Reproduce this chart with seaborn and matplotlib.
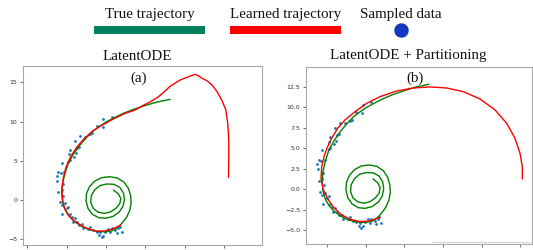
import matplotlib
matplotlib.use("Agg")
import matplotlib.pyplot as plt
import seaborn as sns
from matplotlib.lines import Line2D
from matplotlib.patches import Rectangle

# ---------------- data ----------------
true_x = [8.15, 6.45, 5.18, 3.48, 2.21, 1.15, 0.08, -0.76, -1.61, -2.46, -3.31, -4.16, -4.80,
          -5.22, -5.52, -5.61, -5.52, -5.22, -4.71, -4.08, -3.23, -2.25, -1.19, 0.0, 0.8, 1.4,
          1.8, 2.1, 2.6, 3.0, 3.18, 3.12, 2.85, 2.3, 1.45, 0.45, -0.55, -1.45, -2.1, -2.48,
          -2.55, -2.3, -1.75, -0.95, -0.05, 0.85, 1.65, 2.15, 2.33, 2.2, 1.75, 1.0, 0.1, -0.75,
          -1.45, -1.88, -1.95, -1.65, -1.0, -0.2, 0.6, 1.3, 1.75, 1.87, 1.55, 0.93]
true_y = [12.82, 12.48, 12.10, 11.55, 11.04, 10.53, 9.98, 9.43, 8.83, 7.98, 7.01, 5.82, 4.67,
          3.40, 2.12, 0.85, -0.21, -1.19, -2.04, -2.68, -3.27, -3.74, -3.99, -4.05, -3.9, -3.55,
          -3.18, -2.85, -2.2, -1.35, -0.42, 0.55, 1.45, 2.25, 2.8, 2.97, 2.85, 2.4, 1.7, 0.85,
          -0.1, -1.05, -1.8, -2.25, -2.33, -2.1, -1.55, -0.8, 0.05, 0.9, 1.6, 2.0, 2.04, 1.85,
          1.3, 0.55, -0.3, -1.05, -1.55, -1.7, -1.5, -1.0, -0.45, 0.2, 0.8, 1.27]

learned_a_x = [1.85, 0.93, -0.13, -1.19, -2.25, -3.18, -4.08, -4.80, -5.31, -5.56, -5.61, -5.44,
               -5.10, -4.50, -3.74, -2.80, -1.70, -0.55, 0.93, 2.42, 3.69, 4.55, 5.6, 6.66, 7.4,
               8.15, 9.43, 10.7, 11.34, 11.76, 12.2, 12.8, 13.5, 14.1, 14.7, 15.2, 15.45, 15.58,
               15.58, 15.54]
learned_a_y = [-3.2, -3.65, -3.95, -3.95, -3.69, -3.23, -2.63, -1.91, -0.98, 0.21, 1.49, 2.76,
               4.16, 5.52, 6.71, 7.81, 8.79, 9.51, 10.32, 11.04, 11.46, 11.97, 12.5, 13.16, 13.8,
               14.5, 15.3, 15.8, 16.0, 15.8, 15.5, 15.2, 14.6, 13.8, 12.7, 11.5, 9.77, 7.64,
               5.1, 2.89]

learned_b_x = [1.85, 0.56, -0.73, -2.02, -3.10, -4.05, -4.82, -5.47, -5.77, -5.68, -5.38, -4.95,
               -4.39, -3.62, -2.67, -1.38, 0.13, 1.85, 4.0, 6.16, 8.31, 10.47, 12.62, 14.77,
               16.71, 18.22, 19.29, 19.94, 20.24, 20.24]
learned_b_y = [-3.42, -3.87, -3.95, -3.66, -3.13, -2.32, -1.30, -0.08, 1.34, 2.77, 3.99, 5.13,
               6.23, 7.45, 8.47, 9.48, 10.5, 11.31, 12.0, 12.37, 12.5, 12.37, 11.92, 11.03,
               9.69, 8.06, 6.23, 4.40, 2.77, 1.26]

data_x = [0.72, -0.34, -0.42, -1.19, -1.83, -2.04, -2.68, -3.31, -3.95, -3.40, -3.73, -4.59,
          -3.82, -4.04, -4.71, -4.59, -4.80, -5.65, -6.07, -5.73, -5.31, -6.28, -6.2, -6.07,
          -5.65, -5.44, -5.65, -5.22, -5.01, -4.80, -5.57, -4.59, -4.37, -3.95, -4.16, -3.73,
          -3.40, -3.10, -2.89, -2.25, -2.04, -1.61, -1.19, -0.85, -0.55, -0.34, -0.76, -0.13,
          0.30, 0.72, 0.51, 1.15, 1.57, 1.78, 1.36, 2.0, -5.5, -5.9]
data_y = [10.6, 10.3, 9.34, 9.43, 8.5, 8.37, 8.07, 8.15, 7.52, 6.71, 6.58, 6.37, 5.95, 5.52,
          5.82, 5.1, 4.88, 4.75, 3.61, 3.48, 3.61, 3.10, 2.42, 1.06, 1.27, 0.55, -0.64, -0.42,
          -1.06, -0.85, -1.83, -1.83, -2.13, -2.34, -2.76, -2.76, -3.18, -3.10, -3.61, -3.69,
          -3.40, -3.82, -4.03, -4.46, -4.67, -4.54, -4.12, -4.03, -3.69, -3.61, -4.12, -3.82,
          -3.61, -3.40, -4.25, -4.12, 2.0, -0.3]

panel_titles = ["LatentODE", "LatentODE + Partitioning"]
panel_tags = ["(a)", "(b)"]
legend_labels = ["True trajectory", "Learned trajectory", "Sampled data"]
xticks_a = [-10, -5, 0, 5, 10, 15]
yticks_a = [-5, 0, 5, 10, 15]
xticks_b = [-5, 0, 5, 10, 15, 20]
yticks_b = [-5.0, -2.5, 0.0, 2.5, 5.0, 7.5, 10.0, 12.5]

# ---------------- figure ----------------
sns.set_style("white")
plt.rcParams["font.family"] = ["DejaVu Sans"]
SERIF = ["Liberation Serif", "DejaVu Serif"]
W, H = 533, 250

fig = plt.figure(figsize=(W / 100, H / 100), dpi=100)
ax_a = fig.add_axes([23 / W, 1 - 245 / H, 239 / W, 179 / H])
ax_b = fig.add_axes([306 / W, 1 - 244.3 / H, 225.7 / W, 177.6 / H])

panels = [
    (ax_a, learned_a_x, learned_a_y, xticks_a, yticks_a, (-10.55, 19.8), (-5.73, 17.07)),
    (ax_b, learned_b_x, learned_b_y, xticks_b, yticks_b, (-7.71, 21.45), (-6.72, 14.97)),
]
for i, (ax, lx, ly, xt, yt, xl, yl) in enumerate(panels):
    sns.lineplot(x=true_x, y=true_y, sort=False, estimator=None, color="green",
                 linewidth=1.0, ax=ax)
    sns.lineplot(x=lx, y=ly, sort=False, estimator=None, color="red",
                 linewidth=1.0, ax=ax)
    sns.scatterplot(x=data_x, y=data_y, s=4, color="#1f77b4", linewidth=0, ax=ax)
    ax.set_xlim(*xl)
    ax.set_ylim(*yl)
    ax.set_xticks(xt)
    ax.set_yticks(yt)
    ax.set_xlabel("")
    ax.set_ylabel("")
    ax.tick_params(axis="both", bottom=True, left=True, length=2.5, width=0.6,
                   color="#555555", labelsize=4.5, labelcolor="#333333", pad=1.5)
    ax.tick_params(axis="x", labelbottom=False)
    for sp in ax.spines.values():
        sp.set_color("#a8a8a8")
        sp.set_linewidth(0.8)
    ax.text(0.483, 0.934, panel_tags[i], transform=ax.transAxes, ha="center",
            va="center", family=SERIF, fontsize=10.8, color="#111111")

# panel titles
fig.text(137.5 / W, 1 - 59.5 / H, panel_titles[0], ha="center", va="baseline",
         family=SERIF, fontsize=10.8, color="#111111")
fig.text(408 / W, 1 - 59.5 / H, panel_titles[1], ha="center", va="baseline",
         family=SERIF, fontsize=10.8, color="#111111")

# legend header
fig.text(149.5 / W, 1 - 18.3 / H, legend_labels[0], ha="center", va="baseline",
         family=SERIF, fontsize=10.8, color="#111111")
fig.text(286 / W, 1 - 18.3 / H, legend_labels[1], ha="center", va="baseline",
         family=SERIF, fontsize=10.8, color="#111111")
fig.text(400.5 / W, 1 - 18.3 / H, legend_labels[2], ha="center", va="baseline",
         family=SERIF, fontsize=10.8, color="#111111")
fig.add_artist(Rectangle((94 / W, 1 - 34 / H), 111 / W, 7.5 / H,
                         transform=fig.transFigure, facecolor="#00805F", edgecolor="none"))
fig.add_artist(Rectangle((230 / W, 1 - 34 / H), 111 / W, 7.5 / H,
                         transform=fig.transFigure, facecolor="#FF0000", edgecolor="none"))
fig.add_artist(Line2D([401 / W], [1 - 29.5 / H], marker="o", markersize=9.4,
                      color="#1438BE", linestyle="none", transform=fig.transFigure))

# faint grey stroke present at the bottom right of panel (b)
fig.add_artist(Line2D([432 / W, 530 / W], [1 - 242.3 / H, 1 - 242.3 / H],
                      color="#d4d4d4", linewidth=0.8, transform=fig.transFigure))

fig.savefig("out.png", dpi=100)
